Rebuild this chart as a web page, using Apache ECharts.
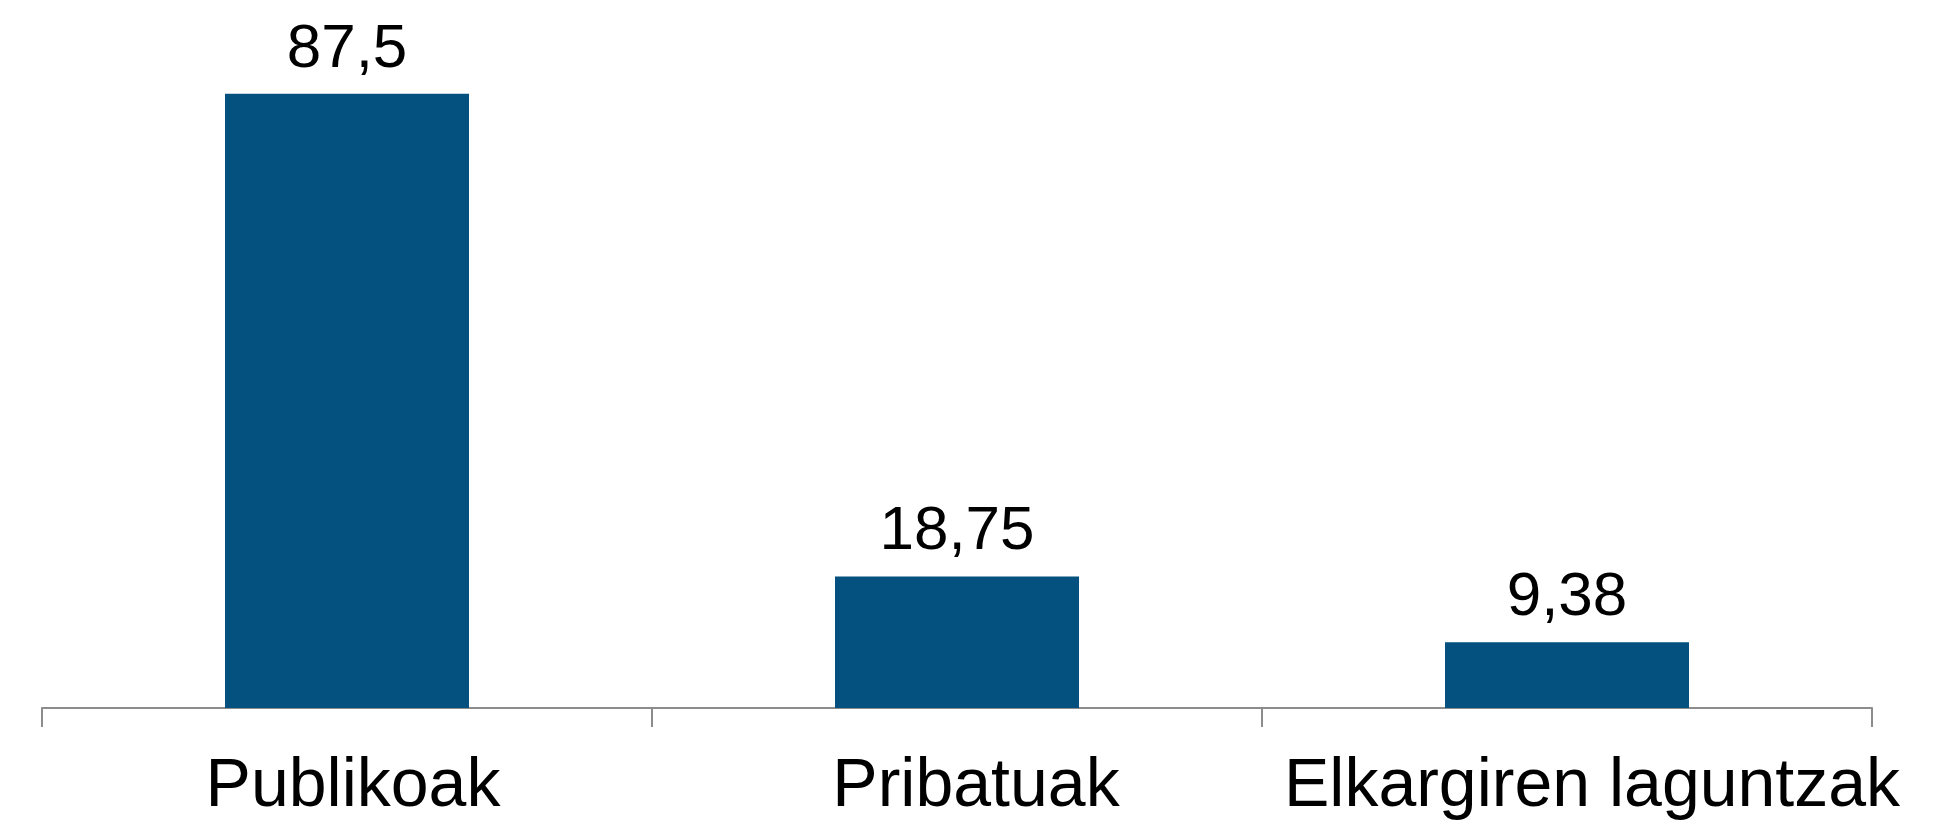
<!DOCTYPE html>
<html>
<head>
<meta charset="utf-8">
<script src="https://cdn.jsdelivr.net/npm/echarts@6/dist/echarts.min.js"></script>
<style>
  html, body { margin: 0; padding: 0; background: #fff; }
  #chart { width: 1937px; height: 824px; }
</style>
</head>
<body>
<div id="chart"></div>
<script>
const categories = ['Publikoak', 'Pribatuak', 'Elkargiren laguntzak'];
const values = [87.5, 18.75, 9.38];
// labels in the source sit a little right of the category centre
const labelShift = [6, 19, 25];

const chart = echarts.init(document.getElementById('chart'));

chart.setOption({
  animation: false,
  grid: { top: 6, left: 42, right: 65, bottom: 116 },
  xAxis: {
    type: 'category',
    data: categories.map((c, i) => ({
      value: c,
      textStyle: { padding: [0, 0, 0, labelShift[i] * 2] }
    })),
    axisLine: { lineStyle: { color: '#8c8c8c', width: 2 } },
    axisTick: { show: true, interval: 0, length: 19, lineStyle: { color: '#8c8c8c', width: 2 } },
    axisLabel: {
      interval: 0,
      hideOverlap: false,
      margin: 45,
      color: '#000',
      fontSize: 68,
      fontFamily: 'Liberation Sans, Arial, sans-serif'
    }
  },
  yAxis: {
    type: 'value',
    min: 0,
    max: 100,
    show: false
  },
  series: [{
    type: 'bar',
    data: values,
    barWidth: '40%',
    itemStyle: { color: '#04507e' },
    label: {
      show: true,
      position: 'top',
      distance: 13,
      color: '#000',
      fontSize: 62,
      fontFamily: 'Liberation Sans, Arial, sans-serif',
      formatter: p => String(p.value).replace('.', ',')
    }
  }]
});
</script>
</body>
</html>
